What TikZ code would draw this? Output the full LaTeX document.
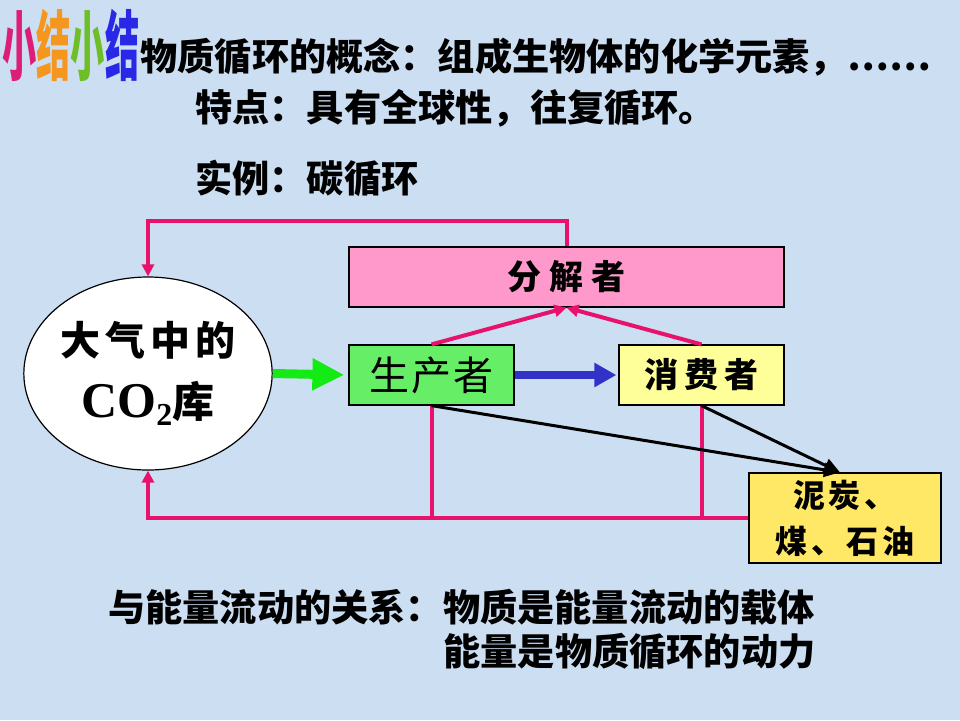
\documentclass[tikz,border=0pt]{standalone}
\usepackage{fontspec}
\usepackage{graphicx}
\setmainfont{Liberation Serif}
\newfontfamily\cjk{Noto Sans CJK SC}
\usetikzlibrary{arrows.meta,shapes.geometric}

\definecolor{bgblue}{RGB}{204,222,242}
\definecolor{cycpink}{RGB}{232,18,108}
\definecolor{prodgreen}{RGB}{102,238,102}
\definecolor{consyellow}{RGB}{255,255,153}
\definecolor{decpink}{RGB}{255,153,204}
\definecolor{fossyellow}{RGB}{255,232,102}
\definecolor{arrgreen}{RGB}{20,235,20}
\definecolor{arrblue}{RGB}{50,50,200}
\definecolor{tA}{RGB}{220,30,120}
\definecolor{tB}{RGB}{245,150,30}
\definecolor{tC}{RGB}{110,190,40}
\definecolor{tD}{RGB}{40,40,230}

\tikzset{
  box/.style={draw=black, line width=0.6pt, inner sep=0pt, align=center},
  flow/.style={draw=cycpink, line width=2pt},
  pinktip/.style={-{Triangle[length=6pt,width=6pt]}},
  bodytext/.style={anchor=west, inner sep=0pt, font={\cjk\bfseries\fontsize{18.6}{20}\selectfont}}
}

\begin{document}
\begin{tikzpicture}[x=0.5pt,y=-0.5pt]
        % Fond
        \fill[bgblue] (0,0) rectangle (960,720);
        \useasboundingbox (0,0) rectangle (960,720);

        % Titre
        \node[anchor=west, inner sep=0pt] (title) at (2,45)
          {\scalebox{0.45}[1]{\cjk\bfseries\fontsize{38}{38}\selectfont
           \textcolor{tA}{小}\textcolor{tB}{结}\textcolor{tC}{小}\textcolor{tD}{结}}};

        % Textes du haut
        \node[bodytext] (concept) at (140,57) {物质循环的概念：组成生物体的化学元素，……};
        \node[bodytext] (trait) at (195,108) {特点：具有全球性，往复循环。};
        \node[bodytext] (example) at (195,178) {实例：碳循环};

        % Reservoir
        \node[ellipse, draw=black, line width=0.6pt, fill=white, minimum width=122pt,
              minimum height=96.5pt, inner sep=0pt, align=center] (co2) at (148,373.5)
          {{\cjk\bfseries\fontsize{20}{20}\selectfont\addfontfeature{LetterSpace=13}大气中的}\\[10pt]
           {\bfseries\fontsize{25}{25}\selectfont CO\raisebox{-0.35ex}{\fontsize{16}{16}\selectfont 2}}{\cjk\bfseries\fontsize{21}{21}\selectfont 库}};

        % Boites
        \node[box, fill=decpink, minimum width=217.5pt, minimum height=30pt,
              font={\cjk\bfseries\fontsize{17}{17}\selectfont\addfontfeature{LetterSpace=24}}] (decomp) at (566.5,277) {分解者};
        \node[box, fill=prodgreen, minimum width=82.5pt, minimum height=30pt,
              font={\cjk\fontsize{20}{20}\selectfont\addfontfeature{LetterSpace=4}}] (prod) at (431.5,375) {生产者};
        \node[box, fill=consyellow, minimum width=82.5pt, minimum height=30pt,
              font={\cjk\bfseries\fontsize{17}{17}\selectfont\addfontfeature{LetterSpace=18}}] (cons) at (701.5,375) {消费者};
        \node[box, fill=fossyellow, minimum width=96pt, minimum height=45pt,
              font={\cjk\bfseries\fontsize{16}{23}\selectfont\addfontfeature{LetterSpace=12}}] (fossil) at (845,518) {泥炭、\\煤、石油};

        % Fleches epaisses
        \draw[arrgreen, line width=4.5pt, -{Triangle[length=16pt,width=15pt]}, shorten >=2pt] (co2.east) -- (prod.west);
        \draw[arrblue, line width=4pt, -{Triangle[length=11pt,width=11.5pt]}, shorten >=1pt] (prod.east) -- (cons.west);

        % Vers les decomposeurs
        \draw[flow, pinktip] (prod.north) -- (decomp.south);
        \draw[flow, pinktip] (cons.north) -- (decomp.south);

        % Retour par le haut
        \draw[flow, pinktip] (decomp.north) -- ++(0,-25) -| (co2.north);

        % Retour par le bas
        \draw[flow, pinktip] (fossil.west) -- (co2.south |- fossil.west) -- (co2.south);
        \draw[flow] (prod.south) -- (prod.south |- fossil.west);
        \draw[flow] (cons.south) -- (cons.south |- fossil.west);

        % Vers les combustibles fossiles
        \draw[black, line width=1.5pt, -{Triangle[length=8pt,width=7pt]}] (prod.south) -- ([xshift=-2.5pt]fossil.north);
        \draw[black, line width=1.5pt, -{Triangle[length=8pt,width=7pt]}] (cons.south) -- ([xshift=-2.5pt]fossil.north);

        % Textes du bas
        \node[bodytext] (relation) at (108,607) {与能量流动的关系：物质是能量流动的载体};
        \node[bodytext] (power) at (443,651) {能量是物质循环的动力};
\end{tikzpicture}
\end{document}
